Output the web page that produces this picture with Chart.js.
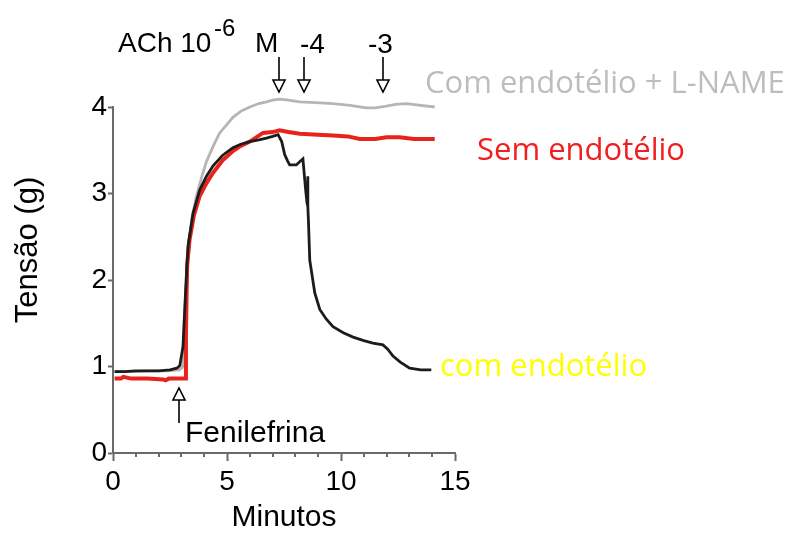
<!DOCTYPE html>
<html><head><meta charset="utf-8">
<script src="https://cdn.jsdelivr.net/npm/chart.js@4"></script>
<style>html,body{margin:0;padding:0;background:#fff}canvas{display:block}</style>
</head><body>
<canvas id="c" width="795" height="536"></canvas>
<script>
// ---- data (minutes, grams) ----
const comX = [0.07,0.5,1.0,1.5,2.0,2.5,2.8,2.93,3.07,3.18,3.29,3.51,3.80,4.10,4.39,4.80,5.26,5.60,6.00,6.40,6.73,7.00,7.24,7.40,7.53,7.65,7.75,8.04,8.20,8.33,8.45,8.51,8.54,8.55,8.57,8.63,8.85,9.07,9.35,9.65,10.10,10.53,11.00,11.40,11.84,12.05,12.28,12.60,13.01,13.50,13.96];
const comY = [0.94,0.94,0.95,0.95,0.95,0.96,0.98,1.01,1.23,1.85,2.39,2.77,3.04,3.20,3.32,3.44,3.53,3.57,3.60,3.62,3.64,3.66,3.68,3.60,3.45,3.38,3.33,3.33,3.37,3.40,3.04,2.89,3.20,2.85,2.70,2.23,1.85,1.66,1.55,1.46,1.39,1.34,1.30,1.27,1.25,1.20,1.12,1.05,0.98,0.96,0.96];
const semX = [0.07,0.35,0.45,0.8,1.5,2.2,2.3,2.45,3.0,3.19,3.20,3.25,3.36,3.55,3.80,4.10,4.39,4.80,5.26,5.60,6.00,6.58,7.00,7.31,7.70,8.19,9.00,9.65,10.30,10.82,11.50,12.00,12.57,13.20,14.11];
const semY = [0.86,0.86,0.88,0.86,0.86,0.85,0.84,0.86,0.86,0.86,1.40,2.16,2.47,2.75,2.97,3.12,3.24,3.38,3.49,3.55,3.60,3.70,3.71,3.73,3.71,3.69,3.68,3.67,3.66,3.63,3.63,3.65,3.65,3.63,3.63];
const lnameX = [0.07,0.8,1.6,2.4,2.9,3.05,3.14,3.29,3.45,3.66,3.90,4.10,4.40,4.68,5.00,5.26,5.60,6.00,6.40,6.73,7.00,7.31,7.70,8.19,8.90,9.65,10.40,11.11,11.50,11.99,12.40,12.87,13.50,14.11];
const lnameY = [0.94,0.94,0.95,0.95,0.96,0.99,1.62,2.31,2.70,2.97,3.20,3.37,3.55,3.70,3.80,3.88,3.95,4.00,4.04,4.06,4.08,4.09,4.08,4.06,4.05,4.04,4.02,3.99,3.99,4.01,4.03,4.04,4.02,4.00];
const xTicks = [0,5,10,15];
const yTicks = [0,1,2,3,4];
const xMinorTicks = [1,2,3,4,6,7,8,9,11,12,13,14];
const achTimes = [7.29, 8.39, 11.83];
const achLabels = ['-4','-3'];
const fenTime = 2.88;
const seriesNames = ['com endotélio','Sem endotélio','Com endotélio + L-NAME'];
const seriesColors = ['#ffff00','#f01e1e','#bdbdbd'];
const lineColors = ['#1c1c1c','#e8221c','#b9b4b4'];

const toPts = (xs, ys) => xs.map((v,i)=>({x:v, y:ys[i]}));
const AXIS = '#6a6a6a';
const SANS = '"Liberation Sans", Arial, sans-serif';
const OPEN = '"Open Sans", "Noto Sans", sans-serif';

function arrow(ctx, x, yTail, yTip){
  const dir = yTip > yTail ? 1 : -1;
  const hb = yTip - dir*12;
  ctx.beginPath(); ctx.moveTo(x, yTail); ctx.lineTo(x, hb); ctx.stroke();
  ctx.beginPath(); ctx.moveTo(x-6, hb); ctx.lineTo(x+6, hb); ctx.lineTo(x, yTip); ctx.closePath();
  ctx.fillStyle = '#fff'; ctx.fill(); ctx.stroke();
}

const annot = {
  id: 'annot',
  afterDraw(chart){
    const {ctx, scales:{x, y}} = chart;
    ctx.save();
    // minor x ticks
    ctx.strokeStyle = AXIS; ctx.lineWidth = 2;
    xMinorTicks.forEach(m => {
      const px = Math.round(x.getPixelForValue(m));
      ctx.beginPath(); ctx.moveTo(px, y.bottom); ctx.lineTo(px, y.bottom + 4); ctx.stroke();
    });
    // y axis title
    ctx.save();
    ctx.translate(37, 250); ctx.rotate(-Math.PI/2);
    ctx.fillStyle = '#000'; ctx.font = '31px ' + SANS; ctx.textAlign = 'center'; ctx.textBaseline = 'alphabetic';
    ctx.fillText('Tensão (g)', 0, 0);
    ctx.restore();
    // ACh arrows
    ctx.strokeStyle = '#000'; ctx.lineWidth = 1.6;
    achTimes.forEach(t => arrow(ctx, Math.round(x.getPixelForValue(t)), 57, 92));
    // Fenilefrina arrow
    arrow(ctx, Math.round(x.getPixelForValue(fenTime)), 423, 388);
    // texts
    ctx.fillStyle = '#000'; ctx.textAlign = 'left'; ctx.textBaseline = 'alphabetic';
    ctx.font = '28px ' + SANS;
    ctx.fillText('ACh 10', 118, 52);
    ctx.fillText('M', 255, 52);
    ctx.fillText(achLabels[0], 300, 53);
    ctx.fillText(achLabels[1], 368, 53);
    ctx.font = '24px ' + SANS;
    ctx.fillText('-6', 214, 36);
    ctx.font = '30px ' + SANS;
    ctx.fillText('Fenilefrina', 185, 442);
    ctx.font = '31px ' + OPEN;
    ctx.fillStyle = seriesColors[2]; ctx.fillText(seriesNames[2], 425, 93);
    ctx.fillStyle = seriesColors[1]; ctx.fillText(seriesNames[1], 477, 160);
    ctx.fillStyle = seriesColors[0]; ctx.fillText(seriesNames[0], 440, 376);
    ctx.restore();
  }
};

Chart.defaults.font.family = SANS;
new Chart(document.getElementById('c'), {
  type: 'line',
  data: {
    datasets: [
      {label: seriesNames[0], data: toPts(comX, comY), borderColor: lineColors[0], borderWidth: 2.8, order: 0},
      {label: seriesNames[1], data: toPts(semX, semY), borderColor: lineColors[1], borderWidth: 4, order: 1},
      {label: seriesNames[2], data: toPts(lnameX, lnameY), borderColor: lineColors[2], borderWidth: 2.8, order: 2}
    ].map(d => Object.assign(d, {pointRadius: 0, tension: 0, clip: false, fill: false}))
  },
  options: {
    responsive: false,
    animation: false,
    devicePixelRatio: 1,
    layout: {padding: {left: 0, top: 107, right: 340, bottom: 0}},
    plugins: {legend: {display: false}, tooltip: {enabled: false}},
    scales: {
      x: {
        type: 'linear', min: 0, max: 15,
        afterBuildTicks: s => { s.ticks = xTicks.map(v => ({value: v})); },
        afterFit: s => { s.height = 83; },
        grid: {drawOnChartArea: false, tickLength: 8, tickColor: AXIS, tickWidth: 2},
        border: {color: AXIS, width: 2},
        ticks: {color: '#000', font: {size: 28}, padding: 4, maxRotation: 0},
        title: {display: true, text: 'Minutos', color: '#000', font: {size: 30}, padding: {top: 0, bottom: 0}}
      },
      y: {
        type: 'linear', min: 0, max: 4,
        afterBuildTicks: s => { s.ticks = yTicks.map(v => ({value: v})); },
        afterFit: s => { s.width = 113; },
        grid: {drawOnChartArea: false, tickLength: 5, tickColor: AXIS, tickWidth: 2},
        border: {color: AXIS, width: 2},
        ticks: {color: '#000', font: {size: 28}, padding: 1}
      }
    }
  },
  plugins: [annot]
});
</script>
</body></html>
